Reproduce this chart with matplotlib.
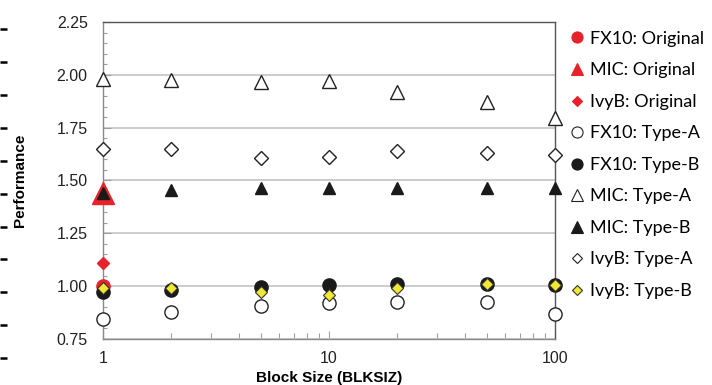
import matplotlib.pyplot as plt
from matplotlib.ticker import FixedLocator, NullFormatter, MultipleLocator
from matplotlib.lines import Line2D

# block sizes tested
blksiz = [1, 2, 5, 10, 20, 50, 100]

# original code only has a result at BLKSIZ = 1
fx10_orig = [1.00]
mic_orig = [1.44]
ivyb_orig = [1.11]

fx10_a = [0.845, 0.88, 0.905, 0.92, 0.925, 0.925, 0.87]
fx10_b = [0.97, 0.98, 0.995, 1.005, 1.01, 1.01, 1.005]
mic_a = [1.98, 1.975, 1.965, 1.97, 1.92, 1.87, 1.795]
mic_b = [1.44, 1.455, 1.465, 1.465, 1.465, 1.465, 1.465]
ivyb_a = [1.65, 1.65, 1.605, 1.61, 1.64, 1.63, 1.62]
ivyb_b = [0.99, 0.99, 0.97, 0.96, 0.99, 1.01, 1.005]

legend_labels = ["FX10: Original", "MIC: Original", "IvyB: Original",
                 "FX10: Type-A", "FX10: Type-B", "MIC: Type-A",
                 "MIC: Type-B", "IvyB: Type-A", "IvyB: Type-B"]

RED = "#e8222a"
YEL = "#f0e832"

fig = plt.figure(figsize=(7.12, 3.85), dpi=100)
ax = fig.add_axes([0.1447, 0.1195, 0.6348, 0.8234])

ax.set_xscale("log")
ax.set_xlim(1, 100)
ax.set_ylim(0.75, 2.25)

ax.yaxis.set_major_locator(MultipleLocator(0.25))
ax.yaxis.set_minor_locator(MultipleLocator(0.05))
ax.set_yticklabels([f"{v:.2f}" for v in ax.get_yticks()])
ax.xaxis.set_major_locator(FixedLocator([1, 10, 100]))
ax.set_xticklabels(["1", "10", "100"])
ax.xaxis.set_minor_locator(FixedLocator([2, 3, 4, 5, 6, 7, 8, 9,
                                         20, 30, 40, 50, 60, 70, 80, 90]))
ax.xaxis.set_minor_formatter(NullFormatter())

ax.grid(axis="y", which="major", color="#c8c8c8", linewidth=1.3)
ax.set_axisbelow(True)

for side in ["left", "bottom"]:
    ax.spines[side].set_color("#8a8a8a")
for side in ["top", "right"]:
    ax.spines[side].set_color("#555555")
for s in ax.spines.values():
    s.set_linewidth(1.0)
    s.set_zorder(2.5)

ax.tick_params(axis="both", which="both", direction="in", color="#a0a0a0",
               labelsize=11.5, labelcolor="#222222", width=0.8)
ax.tick_params(axis="y", which="major", length=6, pad=11)
ax.tick_params(axis="y", which="minor", length=3)
ax.tick_params(axis="x", which="major", length=6, pad=9)
ax.tick_params(axis="x", which="minor", length=4)

for lab in ax.get_xticklabels() + ax.get_yticklabels():
    lab.set_fontfamily("Liberation Sans")

# originals
ax.plot(blksiz[:1], mic_orig, "^", ms=16, mfc=RED, mec=RED, clip_on=False, zorder=3)
ax.plot(blksiz[:1], fx10_orig, "o", ms=9.5, mfc=RED, mec=RED, clip_on=False, zorder=3)
ax.plot(blksiz[:1], ivyb_orig, "D", ms=6, mfc=RED, mec=RED, clip_on=False, zorder=3)

# Type-A / Type-B
ax.plot(blksiz, fx10_a, "o", ms=9.5, mfc="white", mec="#222222", mew=1.0,
        clip_on=False, zorder=4)
ax.plot(blksiz, fx10_b, "o", ms=9.5, mfc="#1a1a1a", mec="#1a1a1a",
        clip_on=False, zorder=4)
ax.plot(blksiz, mic_a, "^", ms=9.5, mfc="white", mec="#222222", mew=1.0,
        clip_on=False, zorder=4)
ax.plot(blksiz, mic_b, "^", ms=8.5, mfc="#1a1a1a", mec="#1a1a1a",
        clip_on=False, zorder=4)
ax.plot(blksiz, ivyb_a, "D", ms=6.8, mfc="white", mec="#222222", mew=1.0,
        clip_on=False, zorder=4)
ax.plot(blksiz, ivyb_b, "D", ms=5.8, mfc=YEL, mec="#333333", mew=0.8,
        clip_on=False, zorder=5)

ax.set_ylabel("Performance", fontsize=11, fontweight="bold",
              fontfamily="Liberation Sans")
ax.set_xlabel("Block Size (BLKSIZ)", fontsize=11, fontweight="bold",
              fontfamily="Liberation Sans")
ax.yaxis.set_label_coords(-0.168, 0.5)
ax.xaxis.set_label_coords(0.5, -0.102)

# legend handles
styles = [("o", RED, RED), ("^", RED, RED), ("D", RED, RED),
          ("o", "white", "#222222"), ("o", "#1a1a1a", "#1a1a1a"),
          ("^", "white", "#222222"), ("^", "#1a1a1a", "#1a1a1a"),
          ("D", "white", "#222222"), ("D", YEL, "#333333")]
handles = []
for (m, fc, ec), lab in zip(styles, legend_labels):
    size = 5.2 if m == "D" else 8
    handles.append(Line2D([], [], linestyle="none", marker=m, ms=size,
                          mfc=fc, mec=ec, mew=0.8, label=lab))
leg = ax.legend(handles=handles, loc="upper left", bbox_to_anchor=(1.02, 0.995),
                frameon=False, handlelength=0.6, handletextpad=0.45,
                labelspacing=0.86, borderaxespad=0,
                prop={"family": "Lato", "size": 13})

# tick stubs of the neighbouring panel along the left edge
edge = fig.add_axes([0.0, 0.0, 0.01, 1.0])
edge.set_ylim(385, 0)
edge.set_yticks([29, 62, 95, 128, 161, 194, 227, 259, 292, 325, 358])
edge.set_yticklabels([])
edge.set_xticks([])
edge.tick_params(axis="y", direction="in", length=5, width=1.8, color="black")
for s in edge.spines.values():
    s.set_visible(False)
edge.patch.set_alpha(0)

fig.savefig("out.png", dpi=100)
